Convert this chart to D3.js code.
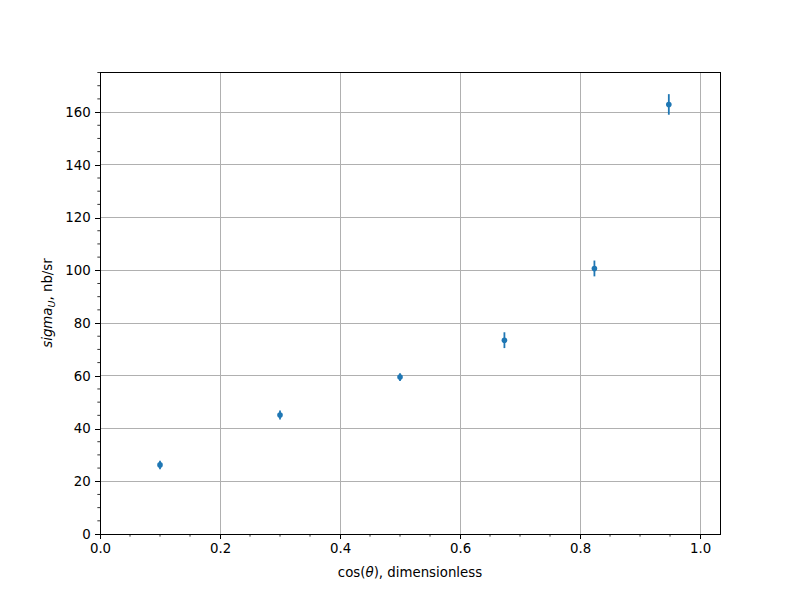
<!DOCTYPE html>
<html>
<head>
<meta charset="utf-8">
<script src="https://cdn.jsdelivr.net/npm/d3@7"></script>
<style>
  body { margin: 0; background: #fff; }
  svg { font-family: "DejaVu Sans", sans-serif; }
</style>
</head>
<body>
<svg width="800" height="600"></svg>
<script>
// data
var cosTheta = [0.1, 0.3, 0.5, 0.674, 0.824, 0.948];
var sigmaU   = [26.2, 45.1, 59.5, 73.5, 100.7, 162.9];
var sigmaErr = [1.6, 1.7, 1.5, 3.0, 3.0, 3.9];
var xTicks = [0, 0.2, 0.4, 0.6, 0.8, 1.0];
var yTicks = [0, 20, 40, 60, 80, 100, 120, 140, 160];

var svg = d3.select('svg'),
    mLeft = 100, mRight = 720, mTop = 72, mBottom = 534,
    blue = '#1f77b4';

var x = d3.scaleLinear().domain([0, 1.0333]).range([mLeft, mRight]);
var y = d3.scaleLinear().domain([0, 175.2]).range([mBottom, mTop]);

// grid
svg.append('g').selectAll('line').data(xTicks).enter().append('line')
  .attr('x1', d => x(d)).attr('x2', d => x(d))
  .attr('y1', mTop).attr('y2', mBottom)
  .attr('stroke', '#b0b0b0').attr('stroke-width', 1)
  .attr('shape-rendering', 'crispEdges');
svg.append('g').selectAll('line').data(yTicks).enter().append('line')
  .attr('x1', mLeft).attr('x2', mRight)
  .attr('y1', d => y(d)).attr('y2', d => y(d))
  .attr('stroke', '#b0b0b0').attr('stroke-width', 1)
  .attr('shape-rendering', 'crispEdges');

// axes
var xAxis = d3.axisBottom(x).tickValues(xTicks).tickFormat(d3.format('.1f'))
  .tickSizeInner(4.67).tickSizeOuter(0).tickPadding(4.67);
var yAxis = d3.axisLeft(y).tickValues(yTicks).tickFormat(d3.format('d'))
  .tickSizeInner(4.67).tickSizeOuter(0).tickPadding(4.67);

var gx = svg.append('g').attr('transform', 'translate(0,' + mBottom + ')').call(xAxis);
var gy = svg.append('g').attr('transform', 'translate(' + mLeft + ',0)').call(yAxis);

// minor ticks
var xMinor = d3.range(0, 1.04, 0.05).filter(d => Math.abs(d * 5 - Math.round(d * 5)) > 1e-6);
var yMinor = d3.range(0, 176, 5).filter(d => d % 20 !== 0);
gx.selectAll('.minor').data(xMinor).enter().append('line')
  .attr('class', 'minor')
  .attr('x1', d => x(d)).attr('x2', d => x(d))
  .attr('y1', 0).attr('y2', 2.67)
  .attr('stroke', '#000').attr('stroke-width', 0.8);
gy.selectAll('.minor').data(yMinor).enter().append('line')
  .attr('class', 'minor')
  .attr('y1', d => y(d)).attr('y2', d => y(d))
  .attr('x1', 0).attr('x2', -2.67)
  .attr('stroke', '#000').attr('stroke-width', 0.8);

[gx, gy].forEach(function (g) {
  g.select('.domain').remove();
  g.selectAll('.tick line').attr('stroke', '#000').attr('stroke-width', 1)
    .attr('shape-rendering', 'crispEdges');
  g.selectAll('.tick text').attr('fill', '#000')
    .style('font-size', '13.33px').style('font-family', '"DejaVu Sans", sans-serif');
});

// frame
svg.append('rect')
  .attr('x', mLeft).attr('y', mTop)
  .attr('width', mRight - mLeft).attr('height', mBottom - mTop)
  .attr('fill', 'none').attr('stroke', '#000').attr('stroke-width', 1)
  .attr('shape-rendering', 'crispEdges');

// error bars + points
var pts = cosTheta.map(function (c, i) { return {x: c, y: sigmaU[i], e: sigmaErr[i]}; });
svg.append('g').selectAll('line').data(pts).enter().append('line')
  .attr('x1', d => x(d.x)).attr('x2', d => x(d.x))
  .attr('y1', d => y(d.y - d.e)).attr('y2', d => y(d.y + d.e))
  .attr('stroke', blue).attr('stroke-width', 1.8);
svg.append('g').selectAll('circle').data(pts).enter().append('circle')
  .attr('cx', d => x(d.x)).attr('cy', d => y(d.y))
  .attr('r', 2.8).attr('fill', blue);

// axis labels
var xl = svg.append('text')
  .attr('x', (mLeft + mRight) / 2).attr('y', 577)
  .attr('text-anchor', 'middle').style('font-size', '13.33px');
xl.append('tspan').text('cos(');
xl.append('tspan').attr('font-style', 'italic').text('θ');
xl.append('tspan').text('), dimensionless');

var yl = svg.append('text')
  .attr('transform', 'translate(52,' + (mTop + mBottom) / 2 + ') rotate(-90)')
  .attr('text-anchor', 'middle').style('font-size', '13.33px');
yl.append('tspan').attr('font-style', 'italic').text('sigma');
yl.append('tspan').attr('font-style', 'italic').attr('font-size', '9.5px').attr('dy', 3).text('U');
yl.append('tspan').attr('dy', -3).text(', nb/sr');
</script>
</body>
</html>
